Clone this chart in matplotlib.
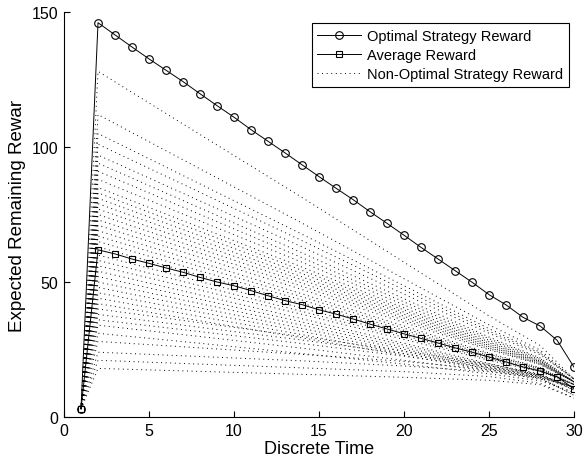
import numpy as np
import matplotlib
matplotlib.use('Agg')
import matplotlib.pyplot as plt

plt.rcParams['font.family'] = ['Liberation Sans', 'DejaVu Sans']
plt.rcParams['lines.scale_dashes'] = False

# Discrete time steps
t = np.arange(1, 31)

# Optimal strategy reward (circles)
optimal = [3, 146, 141.5, 137, 132.6, 128.4, 124.2, 119.7, 115.3, 111.0,
           106.4, 102.1, 97.8, 93.4, 89.0, 84.7, 80.5, 76.0, 71.7, 67.3,
           62.8, 58.5, 54.2, 49.9, 45.3, 41.5, 36.9, 33.7, 28.4, 18.4]

# Average reward (squares)
average = [3, 61.9, 60.4, 58.5, 56.9, 55.2, 53.6, 51.7, 50.0, 48.6,
           46.8, 44.9, 43.1, 41.6, 39.7, 38.1, 36.3, 34.4, 32.6, 30.8,
           29.1, 27.4, 25.6, 24.0, 22.2, 20.4, 18.5, 17.0, 14.9, 10.4]

# Non-optimal strategies, values read at these time steps
nonopt_t = [1, 2, 8, 14, 20, 25, 28, 30]
nonopt = [
    [3, 128, 104.6, 81.3, 57.3, 37.4, 26.5, 14],
    [3, 112, 91.9, 71.8, 51.2, 34.1, 24.8, 14],
    [3, 105, 86.3, 67.7, 48.6, 32.7, 24.0, 14],
    [3, 101, 83.2, 65.3, 47.1, 31.8, 23.6, 14],
    [3, 97, 80.0, 63.0, 45.5, 31.0, 23.1, 14],
    [3, 94, 77.4, 60.8, 43.8, 29.6, 21.9, 13],
    [3, 91, 75.0, 59.0, 42.6, 29.0, 21.6, 13],
    [3, 88, 72.6, 57.3, 41.5, 28.4, 21.3, 13],
    [3, 85, 70.2, 55.5, 40.4, 27.8, 20.9, 13],
    [3, 83, 68.7, 54.3, 39.6, 27.4, 20.7, 13],
    [3, 81, 67.1, 53.1, 38.8, 26.9, 20.5, 13],
    [3, 79, 65.5, 51.9, 38.1, 26.5, 20.3, 13],
    [3, 77, 63.9, 50.8, 37.3, 26.1, 20.0, 13],
    [3, 75, 62.3, 49.6, 36.6, 25.7, 19.8, 13],
    [3, 73, 60.7, 48.4, 35.8, 25.3, 19.6, 13],
    [3, 71, 59.1, 47.2, 35.0, 24.9, 19.4, 13],
    [3, 69, 57.3, 45.6, 33.7, 23.7, 18.3, 12],
    [3, 67, 55.7, 44.5, 32.9, 23.3, 18.1, 12],
    [3, 65, 54.1, 43.3, 32.1, 22.9, 17.8, 12],
    [3, 63, 52.5, 42.1, 31.4, 22.5, 17.6, 12],
    [3, 60, 50.2, 40.3, 30.2, 21.8, 17.3, 12],
    [3, 58, 48.6, 39.1, 29.5, 21.4, 17.1, 12],
    [3, 56, 47.0, 38.0, 28.7, 21.0, 16.8, 12],
    [3, 54, 45.2, 36.4, 27.3, 19.8, 15.7, 11],
    [3, 52, 43.6, 35.2, 26.6, 19.4, 15.5, 11],
    [3, 50, 42.0, 34.0, 25.8, 19.0, 15.3, 11],
    [3, 48, 40.4, 32.8, 25.1, 18.6, 15.1, 11],
    [3, 46, 38.8, 31.7, 24.3, 18.2, 14.9, 11],
    [3, 44, 37.2, 30.5, 23.5, 17.8, 14.6, 11],
    [3, 42, 35.6, 29.3, 22.8, 17.4, 14.4, 11],
    [3, 40, 34.9, 29.8, 24.4, 19.6, 16.0, 10],
    [3, 38, 33.2, 28.5, 23.4, 19.0, 15.6, 10],
    [3, 36, 31.6, 27.2, 22.5, 18.3, 15.2, 10],
    [3, 34, 29.8, 25.5, 21.0, 17.0, 14.0, 9],
    [3, 31, 27.3, 23.5, 19.6, 16.0, 13.4, 9],
    [3, 28, 25.6, 23.2, 20.6, 17.6, 14.6, 8],
    [3, 24, 22.4, 20.8, 18.9, 16.8, 14.4, 8],
    [3, 21, 19.6, 18.2, 16.8, 15.0, 12.5, 7],
    [3, 18, 16.9, 15.8, 14.7, 13.6, 12.0, 7],
]

fig = plt.figure(figsize=(5.83, 4.64), dpi=100)
ax = fig.add_axes([0.1098, 0.0991, 0.875, 0.873])

dot = (0, (0.7, 2.6))
for i, vals in enumerate(nonopt):
    ax.plot(nonopt_t, vals, color='k', linestyle=dot, linewidth=0.7,
            label='Non-Optimal Strategy Reward' if i == 0 else None)

ax.plot(t, average, color='k', linewidth=0.7, marker='s', markersize=5,
        markerfacecolor='none', markeredgewidth=0.8, label='Average Reward')
ax.plot(t, optimal, color='k', linewidth=0.7, marker='o', markersize=5.5,
        markerfacecolor='none', markeredgewidth=0.8, label='Optimal Strategy Reward')

ax.set_xlim(0, 30)
ax.set_ylim(0, 150)
ax.set_xticks([0, 5, 10, 15, 20, 25, 30])
ax.set_yticks([0, 50, 100, 150])
ax.spines['top'].set_visible(False)
ax.spines['right'].set_visible(False)
ax.tick_params(direction='in', length=4, width=0.8, labelsize=11.5, pad=4)
ax.set_xlabel('Discrete Time', fontsize=13, labelpad=2)
ax.set_ylabel('Expected Remaining Rewar', fontsize=13.5, labelpad=4)

h, l = ax.get_legend_handles_labels()
order = [2, 1, 0]
leg = ax.legend([h[k] for k in order], [l[k] for k in order],
                loc='upper right', bbox_to_anchor=(0.976, 0.948),
                bbox_transform=fig.transFigure, borderaxespad=0,
                fontsize=10.5, numpoints=1, handlelength=3.0,
                fancybox=False, framealpha=1, edgecolor='k',
                labelspacing=0.35, borderpad=0.4, handletextpad=0.4)
leg.get_frame().set_linewidth(0.8)

fig.savefig('out.png', dpi=100)
